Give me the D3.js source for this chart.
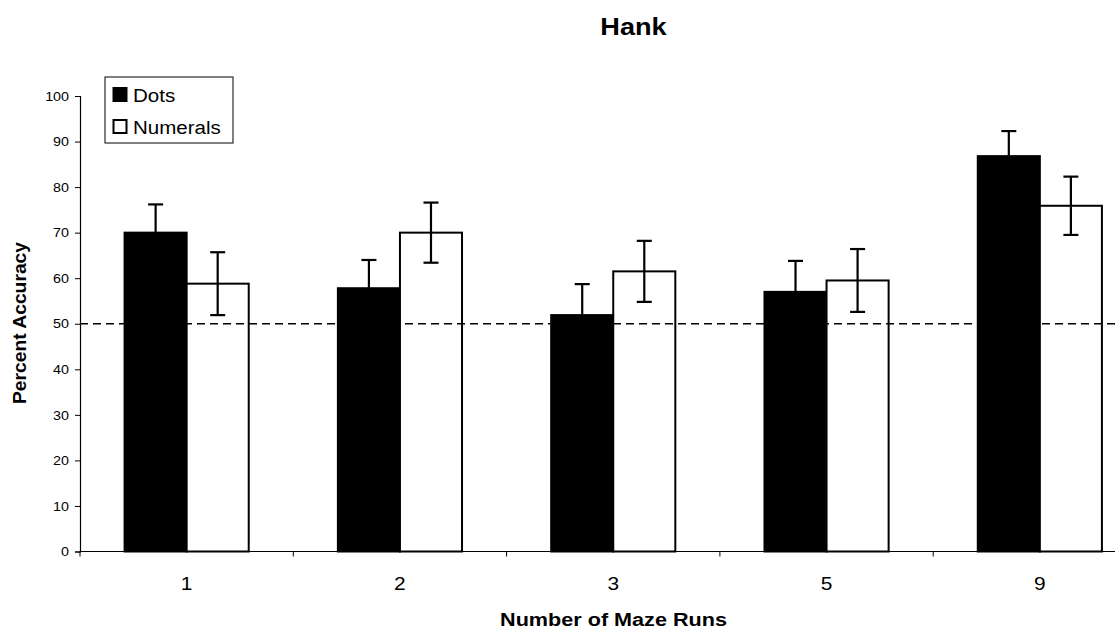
<!DOCTYPE html>
<html>
<head>
<meta charset="utf-8">
<script src="https://cdn.jsdelivr.net/npm/d3@7"></script>
<style>
  html, body { margin: 0; padding: 0; background: #fff; }
  svg { display: block; font-family: "Liberation Sans", Arial, sans-serif; }
</style>
</head>
<body>
<svg id="chart" width="1115" height="633"></svg>
<script>
// Maze run counts and mean accuracy (%) per condition, with error bar half-widths
const categories = ["1", "2", "3", "5", "9"];
const series = ["Dots", "Numerals"];
const dotsValues = [70, 57.8, 51.9, 57.0, 86.8];
const dotsErrors = [6.2, 6.2, 6.8, 6.8, 5.5];
const numeralsValues = [58.8, 70.0, 61.5, 59.5, 75.9];
const numeralsErrors = [6.9, 6.6, 6.7, 6.9, 6.4];
const yTicks = [0, 10, 20, 30, 40, 50, 60, 70, 80, 90, 100];
const chanceLevel = 50;

const svg = d3.select("#chart");
const plotLeft = 80, plotRight = 1146.5, plotTop = 96, plotBottom = 551.5;

// Widen text horizontally (the chart's type is set slightly wide)
function widen(sel, f) {
  sel.each(function () {
    const L = this.getComputedTextLength();
    d3.select(this).attr("textLength", L * f).attr("lengthAdjust", "spacingAndGlyphs");
  });
}

const x = d3.scaleBand().domain(categories).range([plotLeft, plotRight]).paddingInner(0.418).paddingOuter(0.209);
const x1 = d3.scaleBand().domain(series).range([0, x.bandwidth()]);
const y = d3.scaleLinear().domain([0, 100]).range([plotBottom, plotTop]);

const rows = categories.map((c, i) => ({
  cat: c,
  bars: [
    { s: "Dots", v: dotsValues[i], e: dotsErrors[i] },
    { s: "Numerals", v: numeralsValues[i], e: numeralsErrors[i] }
  ]
}));

// Bars
const groups = svg.append("g").selectAll("g").data(rows).join("g")
  .attr("transform", d => `translate(${x(d.cat)},0)`);

groups.selectAll("rect").data(d => d.bars).join("rect")
  .attr("x", d => x1(d.s))
  .attr("y", d => y(d.v))
  .attr("width", x1.bandwidth())
  .attr("height", d => y(0) - y(d.v))
  .attr("fill", d => d.s === "Dots" ? "#000" : "#fff")
  .attr("stroke", "#000")
  .attr("stroke-width", 2);

// Error bars
const eb = groups.selectAll("g.err").data(d => d.bars).join("g").attr("class", "err")
  .attr("stroke", "#000").attr("stroke-width", 2.2);
eb.append("line")
  .attr("x1", d => x1(d.s) + x1.bandwidth() / 2)
  .attr("x2", d => x1(d.s) + x1.bandwidth() / 2)
  .attr("y1", d => y(d.v - d.e))
  .attr("y2", d => y(d.v + d.e));
[1, -1].forEach(sign => {
  eb.append("line")
    .attr("x1", d => x1(d.s) + x1.bandwidth() / 2 - 7.5)
    .attr("x2", d => x1(d.s) + x1.bandwidth() / 2 + 7.5)
    .attr("y1", d => y(d.v + sign * d.e))
    .attr("y2", d => y(d.v + sign * d.e));
});

// Chance line
svg.append("line")
  .attr("x1", plotLeft).attr("x2", 1115)
  .attr("y1", y(chanceLevel)).attr("y2", y(chanceLevel))
  .attr("stroke", "#000").attr("stroke-width", 1.6)
  .attr("stroke-dasharray", "8,5");

// Y axis
const yAxis = svg.append("g").attr("transform", `translate(${plotLeft},0)`)
  .call(d3.axisLeft(y).tickValues(yTicks).tickSize(5).tickPadding(6));
yAxis.select(".domain").attr("stroke", "#000").attr("stroke-width", 1.2);
yAxis.selectAll(".tick line").attr("stroke", "#000");
yAxis.selectAll("text").attr("font-size", 13).attr("fill", "#000")
  .attr("font-family", "Liberation Sans, Arial, sans-serif");
widen(yAxis.selectAll("text"), 1.1);

// X axis: ticks at category boundaries
const boundaries = categories.map(c => x(c) - x.step() * x.paddingInner() / 2);
const xAxisG = svg.append("g");
xAxisG.append("line").attr("x1", plotLeft).attr("x2", 1115).attr("y1", plotBottom).attr("y2", plotBottom)
  .attr("stroke", "#000").attr("stroke-width", 1.2);
xAxisG.selectAll("line.tk").data(boundaries).join("line").attr("class", "tk")
  .attr("x1", d => d).attr("x2", d => d).attr("y1", plotBottom).attr("y2", plotBottom + 5)
  .attr("stroke", "#000");
const xLabels = xAxisG.selectAll("text").data(categories).join("text")
  .attr("x", d => x(d) + x.bandwidth() / 2)
  .attr("y", 590)
  .attr("text-anchor", "middle")
  .attr("font-size", 19)
  .text(d => d);
widen(xLabels, 1.1);

// Titles
widen(svg.append("text").attr("x", 633.5).attr("y", 35).attr("text-anchor", "middle")
  .attr("font-size", 23).attr("font-weight", "bold").text("Hank"), 1.18);
widen(svg.append("text").attr("x", 613.5).attr("y", 626).attr("text-anchor", "middle")
  .attr("font-size", 18).attr("font-weight", "bold").text("Number of Maze Runs"), 1.2);
widen(svg.append("text").attr("transform", "translate(26,323) rotate(-90)").attr("text-anchor", "middle")
  .attr("font-size", 18).attr("font-weight", "bold").text("Percent Accuracy"), 1.07);

// Legend
const lg = svg.append("g").attr("transform", "translate(105,77)");
lg.append("rect").attr("width", 128).attr("height", 66).attr("fill", "#fff")
  .attr("stroke", "#000").attr("stroke-width", 1);
const items = lg.selectAll("g.item").data(series).join("g").attr("class", "item")
  .attr("transform", (d, i) => `translate(8,${11 + i * 32})`);
items.append("rect").attr("x", 0.5).attr("y", 0).attr("width", 13).attr("height", 13)
  .attr("fill", d => d === "Dots" ? "#000" : "#fff")
  .attr("stroke", "#000").attr("stroke-width", 2);
widen(items.append("text").attr("x", 20).attr("y", 13.5).attr("font-size", 18).text(d => d), 1.14);
</script>
</body>
</html>
